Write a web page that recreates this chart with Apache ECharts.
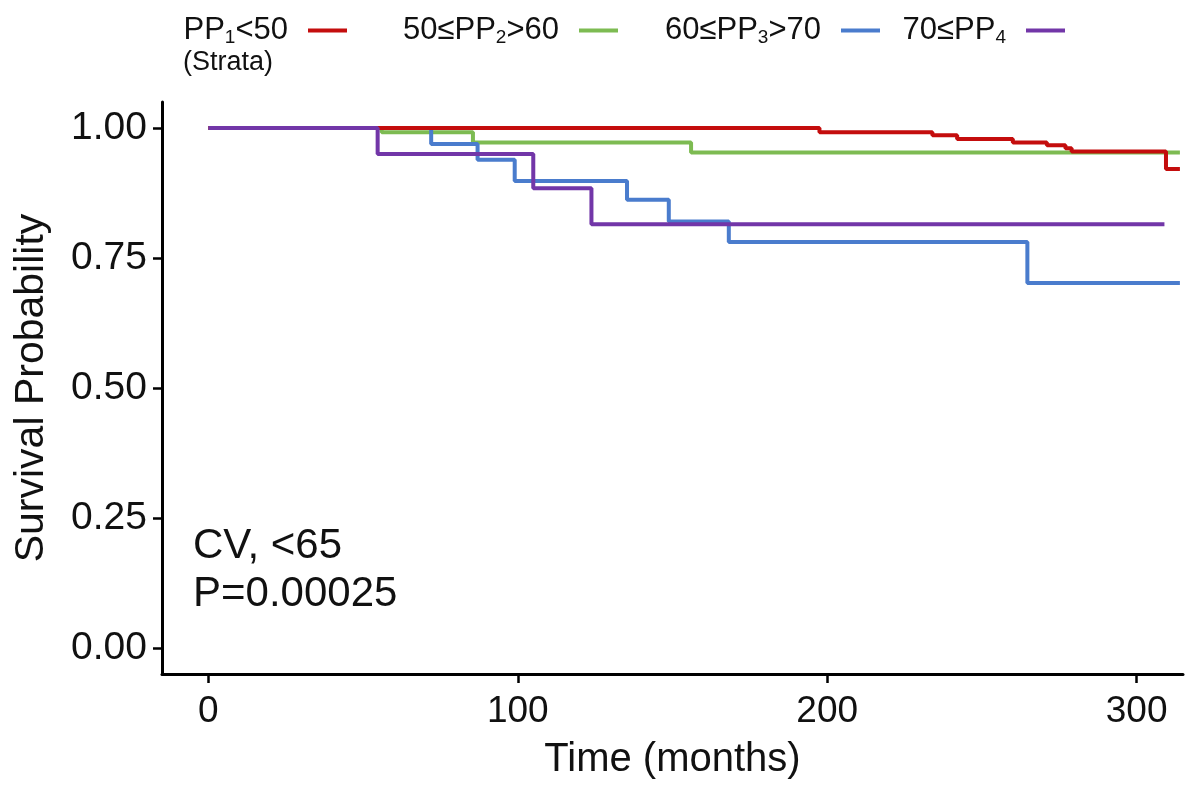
<!DOCTYPE html>
<html>
<head>
<meta charset="utf-8">
<script src="https://cdn.jsdelivr.net/npm/echarts@6/dist/echarts.min.js"></script>
<style>
  html, body { margin: 0; padding: 0; background: #ffffff; }
  #chart { width: 1200px; height: 785px; }
</style>
</head>
<body>
<div id="chart"></div>
<script>
// ---- data ----
const seriesNames = ['PP1<50', '50≤PP2>60', '60≤PP3>70', '70≤PP4'];

const pp1Time = [0, 197.5, 234, 242, 260, 271, 277, 279, 309.5, 314];
const pp1Surv = [1.0, 0.992, 0.986, 0.979, 0.972, 0.967, 0.961, 0.955, 0.921, 0.921];

const pp2Time = [0, 56, 85.5, 156, 314];
const pp2Surv = [1.0, 0.992, 0.972, 0.953, 0.953];

const pp3Time = [0, 72, 87, 99, 135.3, 148.8, 168.2, 264.7, 314];
const pp3Surv = [1.0, 0.969, 0.939, 0.898, 0.862, 0.820, 0.781, 0.702, 0.702];

const pp4Time = [0, 54.7, 105, 123.8, 309];
const pp4Surv = [1.0, 0.950, 0.884, 0.815, 0.815];

const yTicks = [0, 0.25, 0.5, 0.75, 1.0];
const xTicks = [0, 100, 200, 300];

const annotationLines = ['CV, <65', 'P=0.00025'];
const legendTitle = '(Strata)';

// ---- styling ----
const colors = {
  'PP1<50': '#c40d0d',
  '50≤PP2>60': '#7dbb52',
  '60≤PP3>70': '#4a7ccd',
  '70≤PP4': '#7236a8'
};
const FONT = "'Liberation Sans', Arial, Helvetica, sans-serif";

function pairs(t, s) { return t.map((v, i) => [v, s[i]]); }

function mkSeries(name, t, s) {
  return {
    name: name,
    type: 'line',
    step: 'end',
    data: pairs(t, s),
    showSymbol: false,
    symbol: 'none',
    lineStyle: { width: 4, color: colors[name] },
    itemStyle: { color: colors[name] },
    emphasis: { disabled: true },
    silent: true
  };
}

// right edge of each legend key line
const legendRights = [1200 - 347, 1200 - 618, 1200 - 880, 1200 - 1065];
const legends = seriesNames.map((n, i) => ({
  data: [n],
  right: legendRights[i],
  top: 15,
  padding: 0,
  align: 'right',
  icon: 'rect',
  itemWidth: 39,
  itemHeight: 4,
  selectedMode: false,
  formatter: nm => nm.replace(/PP(\d)/, 'PP{s|$1}'),
  textStyle: {
    fontFamily: FONT,
    fontSize: 31,
    color: '#111',
    padding: [0, 15, 0, 0],
    rich: {
      s: { fontFamily: FONT, fontSize: 19, color: '#111', verticalAlign: 'bottom', padding: [14, 0, 0, 0] }
    }
  }
}));

const chart = echarts.init(document.getElementById('chart'), null, { renderer: 'canvas' });
chart.setOption({
  animation: false,
  backgroundColor: '#ffffff',
  grid: { left: 162, right: 17, top: 102, bottom: 107, containLabel: false },
  legend: legends,
  xAxis: {
    type: 'value',
    min: -15,
    max: 315,
    name: 'Time (months)',
    nameLocation: 'middle',
    nameGap: 66,
    nameTextStyle: { fontFamily: FONT, fontSize: 40, color: '#111' },
    axisLine: { show: true, onZero: false, lineStyle: { color: '#000', width: 3 } },
    axisTick: { show: true, customValues: xTicks, length: 9, lineStyle: { color: '#000', width: 2.5 } },
    axisLabel: { customValues: xTicks, margin: 19, fontFamily: FONT, fontSize: 37, color: '#111' },
    splitLine: { show: false }
  },
  yAxis: {
    type: 'value',
    min: -0.05,
    max: 1.05,
    name: 'Survival Probability',
    nameLocation: 'middle',
    nameGap: 110,
    nameRotate: 90,
    nameTextStyle: { fontFamily: FONT, fontSize: 41, color: '#111' },
    axisLine: { show: true, onZero: false, lineStyle: { color: '#000', width: 3 } },
    axisTick: { show: true, customValues: yTicks, length: 9, lineStyle: { color: '#000', width: 2.5 } },
    axisLabel: {
      customValues: yTicks, margin: 15, fontFamily: FONT, fontSize: 39, color: '#111',
      formatter: v => v.toFixed(2)
    },
    splitLine: { show: false }
  },
  graphic: [
    { type: 'text', left: 183, top: 49, style: { text: legendTitle, font: '27px ' + FONT, fill: '#111' } },
    { type: 'text', left: 193, top: 525, style: { text: annotationLines[0], font: '42px ' + FONT, fill: '#111' } },
    { type: 'text', left: 193, top: 573, style: { text: annotationLines[1], font: '42px ' + FONT, fill: '#111' } }
  ],
  series: [
    mkSeries('50≤PP2>60', pp2Time, pp2Surv),
    mkSeries('60≤PP3>70', pp3Time, pp3Surv),
    mkSeries('PP1<50', pp1Time, pp1Surv),
    mkSeries('70≤PP4', pp4Time, pp4Surv)
  ]
});
</script>
</body>
</html>
